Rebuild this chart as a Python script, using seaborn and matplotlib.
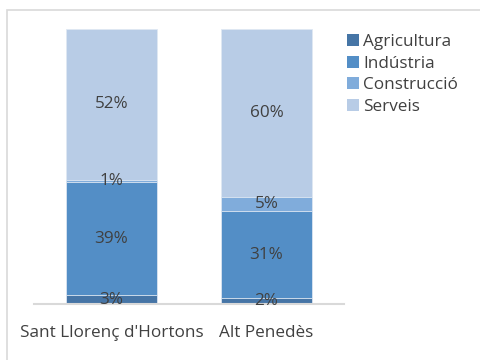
import numpy as np
import pandas as pd
import matplotlib
matplotlib.use("Agg")
import matplotlib.pyplot as plt
from matplotlib.patches import Patch, Rectangle
import seaborn as sns

# Share of employment by sector (%)
places = ["Sant Llorenç d'Hortons", "Alt Penedès"]
sectors = ["Agricultura", "Indústria", "Construcció", "Serveis"]
agricultura = [3, 2]
industria = [39, 31]
construccio = [1, 5]
serveis = [52, 60]
colors = ["#4675A6", "#538EC6", "#80ACDB", "#B8CCE6"]

sns.set_theme(style="white")
plt.rcParams["font.family"] = ["Open Sans", "DejaVu Sans"]

values = np.array([agricultura, industria, construccio, serveis], dtype=float)
shares = values / values.sum(axis=0) * 100  # 100% stacked
cum = shares.cumsum(axis=0)

fig = plt.figure(figsize=(4.81, 3.6), dpi=100)
W, H = 481, 360
ax = fig.add_axes([34 / W, 1 - 304 / H, 310 / W, 275 / H])

# Chart-area frame
fig.patches.append(Rectangle((7 / W, -0.1), 1.2, 1 - 10 / H + 0.1, transform=fig.transFigure,
                             fill=False, edgecolor="#d9d9d9", linewidth=1.2))

# Stacked bars drawn as cumulative totals, tallest first
for i in range(len(sectors) - 1, -1, -1):
    df = pd.DataFrame({"place": places, "top": cum[i]})
    sns.barplot(data=df, x="place", y="top", color=colors[i], saturation=1,
                width=0.587, edgecolor="#dfe8f3", linewidth=0.6, ax=ax)

# Value labels centred in each segment
for j in range(len(places)):
    for i in range(len(sectors)):
        base = cum[i - 1][j] if i > 0 else 0
        ax.text(j, base + shares[i][j] / 2, f"{int(values[i][j])}%",
                ha="center", va="center", fontsize=12.3, color="#404040")

ax.set_xlim(-0.5, 1.5)
ax.set_ylim(0, 100)
ax.set_xlabel("")
ax.set_ylabel("")
ax.set_yticks([])
for s in ["top", "left", "right"]:
    ax.spines[s].set_visible(False)
ax.spines["bottom"].set_color("#d9d9d9")
ax.spines["bottom"].set_linewidth(1.5)
ax.tick_params(axis="x", length=0, pad=15, labelsize=12.3, labelcolor="#404040")

handles = [Patch(facecolor=c, edgecolor="none") for c in colors]
fig.legend(handles, sectors, loc="upper left", bbox_to_anchor=(340 / W, 1 - 27 / H),
           frameon=False, fontsize=12.3, handlelength=0.72, handleheight=0.72,
           handletextpad=0.25, labelspacing=0.33, borderaxespad=0,
           labelcolor="#404040")

fig.savefig("out.png", dpi=100, facecolor="white")
